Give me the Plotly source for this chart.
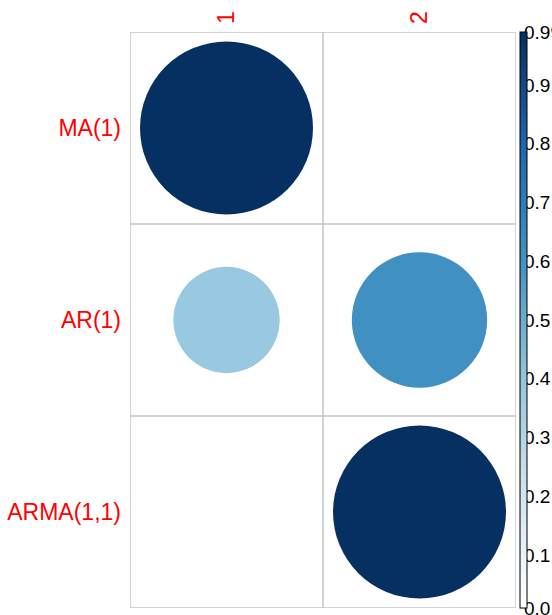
import numpy as np
import plotly.graph_objects as go

# Model rows, lag columns and the value in each cell
models = ["MA(1)", "AR(1)", "ARMA(1,1)"]
lags = ["1", "2"]
lag1_values = [0.99, 0.38, 0.01]
lag2_values = [0.01, 0.61, 0.99]

# Colour bar tick labels
cbar_ticks = [0.01, 0.1, 0.2, 0.3, 0.4, 0.5, 0.6, 0.7, 0.8, 0.9, 0.99]
cbar_text = ["0.01", "0.1", "0.2", "0.3", "0.4", "0.5", "0.6", "0.7", "0.8", "0.9", "0.99"]

# Upper half of the RdBu ramp (white -> navy)
ramp = ["#FFFFFF", "#D1E5F0", "#92C5DE", "#4393C3", "#2166AC", "#053061"]
colorscale = [[i / (len(ramp) - 1), c] for i, c in enumerate(ramp)]

W, H = 552, 615
ML, MR, MT, MB = 130, 0, 32, 7
PLOT_RIGHT = 516   # right edge of the cell grid (px)
BAR_LEFT = 520     # left edge of the colour bar (px)
LABEL_AXIS = 523   # where the colour-bar value axis sits (px)
MAX_DIAM = 173     # circle diameter (px) for the largest value
RED = "#FF0000"
GRID = "#C4C4C4"
FONT = "Liberation Sans, Arial, sans-serif"

paper_w = W - ML - MR
grid_frac = (PLOT_RIGHT - ML) / paper_w

values = np.array([lag1_values, lag2_values]).T  # rows x cols
vmin, vmax = cbar_ticks[0], cbar_ticks[-1]
eps = 1e-6

xs, ys, vs, sizes = [], [], [], []
for r in range(len(models)):
    for c in range(len(lags)):
        v = values[r, c]
        scaled = max((v - vmin) / (vmax - vmin), 0.0)
        xs.append(c)
        ys.append(r)
        vs.append(v)
        sizes.append(MAX_DIAM * np.sqrt(scaled))

fig = go.Figure()
fig.add_trace(go.Scatter(
    x=xs, y=ys, mode="markers",
    marker=dict(
        size=sizes, sizemode="diameter", color=vs,
        colorscale=colorscale, cmin=vmin, cmax=vmax,
        line=dict(width=0), opacity=1,
        colorbar=dict(
            x=(BAR_LEFT - ML) / paper_w, xanchor="left",
            y=0.5, yanchor="middle", len=1, lenmode="fraction",
            thickness=7, outlinecolor="black", outlinewidth=1,
            xpad=0, ypad=0, ticks="", showticklabels=False,
        ),
    ),
    hoverinfo="skip", showlegend=False,
))

# Value axis carrying the colour-bar labels
fig.add_trace(go.Scatter(x=[None], y=[None], yaxis="y2", mode="markers",
                         hoverinfo="skip", showlegend=False))

# Cell grid
nr, nc = len(models), len(lags)
shapes = []
for i in range(nc + 1):
    shapes.append(dict(type="line", xref="x", yref="y", x0=i - 0.5, x1=i - 0.5,
                       y0=-0.5, y1=nr - 0.5, line=dict(color=GRID, width=1.5), layer="below"))
for j in range(nr + 1):
    shapes.append(dict(type="line", xref="x", yref="y", x0=-0.5, x1=nc - 0.5,
                       y0=j - 0.5, y1=j - 0.5, line=dict(color=GRID, width=1.5), layer="below"))

fig.update_layout(
    width=W, height=H,
    margin=dict(l=ML, r=MR, t=MT, b=MB, autoexpand=False),
    paper_bgcolor="white", plot_bgcolor="white",
    shapes=shapes,
    xaxis=dict(
        domain=[0, grid_frac],
        range=[-0.5, nc - 0.5], side="top",
        tickmode="array", tickvals=list(range(nc)), ticktext=lags,
        tickangle=-90, showgrid=False, zeroline=False, showline=False, ticks="",
        tickfont=dict(family=FONT, size=23, color=RED), ticklabelstandoff=7,
    ),
    yaxis=dict(
        range=[nr - 0.5, -0.5],
        tickmode="array", tickvals=list(range(nr)), ticktext=models,
        showgrid=False, zeroline=False, showline=False, ticks="",
        tickfont=dict(family=FONT, size=23, color=RED), ticklabelstandoff=8,
    ),
    yaxis2=dict(
        overlaying="y", anchor="free", position=(LABEL_AXIS - ML) / paper_w, side="right",
        range=[vmin - eps, vmax + eps], fixedrange=True,
        tickmode="array", tickvals=cbar_ticks, ticktext=cbar_text,
        showgrid=False, zeroline=False, showline=False, ticks="",
        ticklabeloverflow="allow",
        tickfont=dict(family=FONT, size=19, color="#000000"),
    ),
)

fig.write_html("out.html")
